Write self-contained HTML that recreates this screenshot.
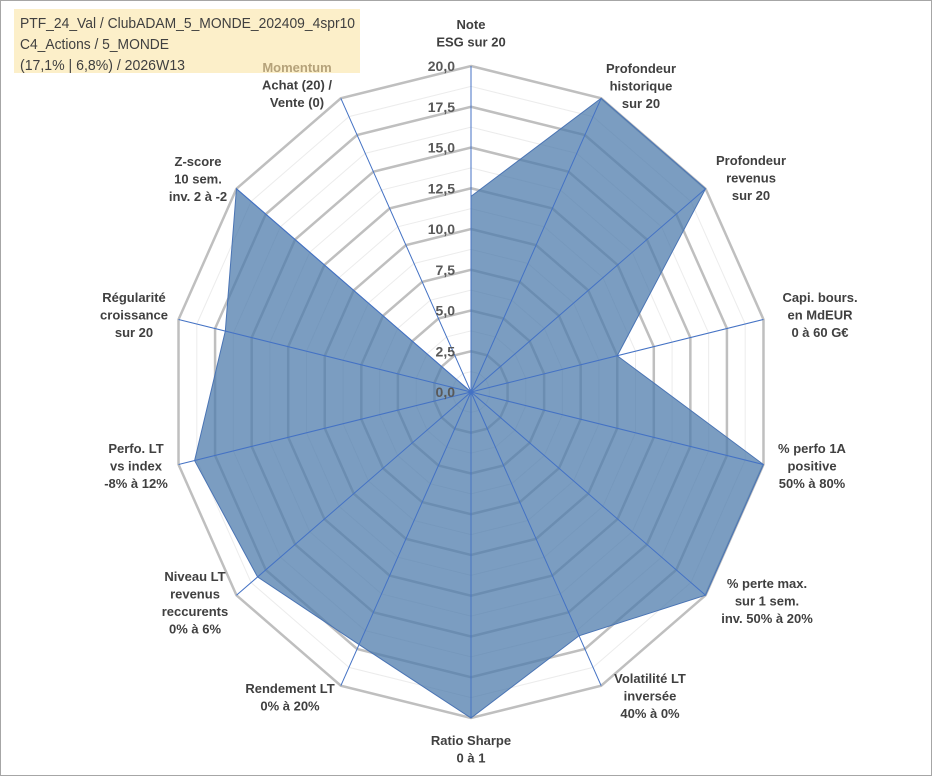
<!DOCTYPE html>
<html><head><meta charset="utf-8"><style>
body{margin:0;background:#fff}
svg{display:block;font-family:"Liberation Sans",sans-serif}
</style></head><body>
<svg id="chart" width="932" height="776" viewBox="0 0 932 776" xmlns="http://www.w3.org/2000/svg">
<rect x="0.5" y="0.5" width="931" height="775" fill="#fff" stroke="#a6a6a6"/>
<rect x="14" y="9" width="346" height="64" fill="#fcefc9"/>
<g font-size="15" fill="#404040">
<text x="20" y="28" textLength="335" lengthAdjust="spacingAndGlyphs">PTF_24_Val / ClubADAM_5_MONDE_202409_4spr10</text>
<text x="20" y="49" textLength="149" lengthAdjust="spacingAndGlyphs">C4_Actions / 5_MONDE</text>
<text x="20" y="70" textLength="165" lengthAdjust="spacingAndGlyphs">(17,1% | 6,8%) / 2026W13</text>
</g>
<g id="grid"></g>
<g id="series"></g>
<g id="spokes"></g>
<g id="ticks"></g>
<g id="labels" font-size="13" font-weight="bold" fill="#404040" text-anchor="middle"></g>
</svg>
<script>
const categories=[
 ["Note","ESG sur 20"],
 ["Profondeur","historique","sur 20"],
 ["Profondeur","revenus","sur 20"],
 ["Capi. bours.","en MdEUR","0 à 60 G€"],
 ["% perfo 1A","positive","50% à 80%"],
 ["% perte max.","sur 1 sem.","inv. 50% à 20%"],
 ["Volatilité LT","inversée","40% à 0%"],
 ["Ratio Sharpe","0 à 1"],
 ["Rendement LT","0% à 20%"],
 ["Niveau LT","revenus","reccurents","0% à 6%"],
 ["Perfo. LT","vs index","-8% à 12%"],
 ["Régularité","croissance","sur 20"],
 ["Z-score","10 sem.","inv. 2 à -2"],
 ["Momentum","Achat (20) /","Vente (0)"]
];
const values=[12,20,20,10,20,20,16.6,20,17.2,18.2,18.9,16.8,20,0];
const tickValues=[0,2.5,5,7.5,10,12.5,15,17.5,20];
const tickLabels=["0,0","2,5","5,0","7,5","10,0","12,5","15,0","17,5","20,0"];
const labelPos=[[471,24],[641,68],[751,160],[820,297],[812,448],[767,583],[650,678],[471,740],[290,688],[195,576],[136,448],[134,297],[198,161],[297,67]];
const CX=471,CY=392,RX=300,RY=326,MAX=20,N=categories.length;
const NS="http://www.w3.org/2000/svg";
function pt(i,v){const a=i*2*Math.PI/N;const f=v/MAX;return [CX+RX*f*Math.sin(a),CY-RY*f*Math.cos(a)];}
function mk(tag,attrs,parent){const e=document.createElementNS(NS,tag);for(const k in attrs)e.setAttribute(k,attrs[k]);parent.appendChild(e);return e;}
const grid=document.getElementById('grid');
for(let v=1.25;v<=MAX+0.01;v+=1.25){
 const major=Math.abs(v/2.5-Math.round(v/2.5))<1e-6;
 const p=[];for(let i=0;i<N;i++)p.push(pt(i,v).join(','));
 const e=mk('polygon',{points:p.join(' '),fill:'none',stroke:major?'#bfbfbf':'#ececec','stroke-width':major?2.5:1},grid);
 
 
}
const sp=[];for(let i=0;i<N;i++)sp.push(pt(i,values[i]).join(','));
const poly=mk('polygon',{points:sp.join(' '),fill:'rgba(79,124,172,0.75)',stroke:'#4a74b4','stroke-width':1},document.getElementById('series'));


const spokes=document.getElementById('spokes');
for(let i=0;i<N;i++){const [x,y]=pt(i,MAX);
 const l=mk('line',{x1:CX,y1:CY,x2:x,y2:y,stroke:'#4472c4','stroke-width':1},spokes);
 
 
}
const ticks=document.getElementById('ticks');
tickValues.forEach((v,k)=>{const y=CY-RY*v/MAX;
 const t=mk('text',{x:455,y:y+5,'text-anchor':'end','font-size':14,'font-weight':'bold',fill:'#595959'},ticks);
 t.textContent=tickLabels[k];
 
 
});
const labels=document.getElementById('labels');
categories.forEach((lines,i)=>{const [x,y]=labelPos[i];
 const t=mk('text',{x:x,y:y+5},labels);
 
 
 lines.forEach((s,j)=>{const ts=mk('tspan',{x:x,dy:j?17.5:0},t);ts.textContent=s;if(i===N-1&&j===0)ts.setAttribute('fill','#b5a27a');});
});
</script>
</body></html>
